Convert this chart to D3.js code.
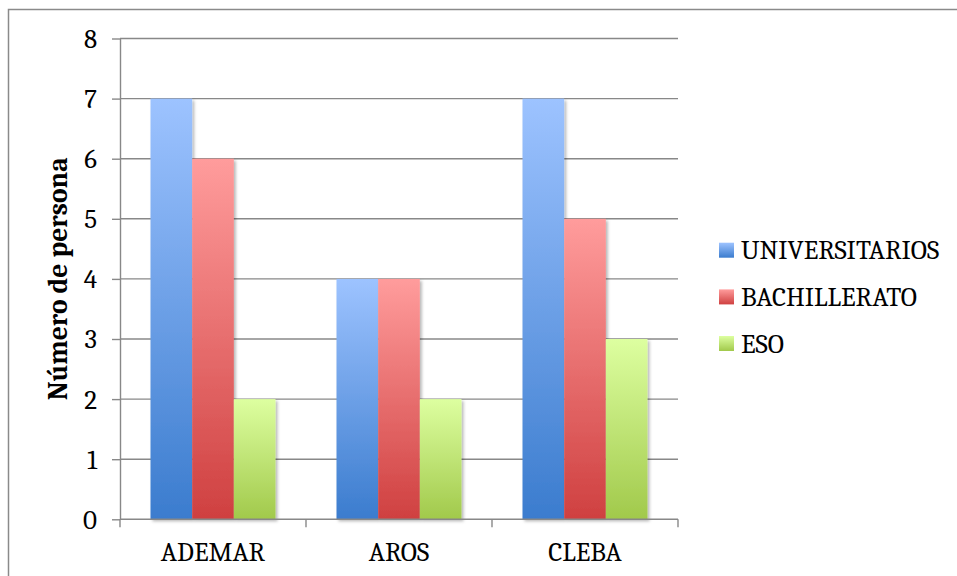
<!DOCTYPE html>
<html>
<head>
<meta charset="utf-8">
<script src="https://cdn.jsdelivr.net/npm/d3@7"></script>
<style>
  html, body { margin: 0; padding: 0; background: #fff; }
  svg { display: block; }
</style>
</head>
<body>
<svg id="chart" width="957" height="576"></svg>
<script>
// Centres and education levels
const categories = ["ADEMAR", "AROS", "CLEBA"];
const seriesNames = ["UNIVERSITARIOS", "BACHILLERATO", "ESO"];
const universitarios = [7, 4, 7];
const bachillerato = [6, 4, 5];
const eso = [2, 2, 3];
const yTicks = [0, 1, 2, 3, 4, 5, 6, 7, 8];
const yTitle = "Número de persona";

const FONT = "'Caladea'";
const FS = 27;
const seriesValues = [universitarios, bachillerato, eso];
const gradients = [
  { id: "gUni", top: "#9dc3ff", bottom: "#3b7cce" },
  { id: "gBach", top: "#ff9c9c", bottom: "#cf4040" },
  { id: "gEso", top: "#ddffa0", bottom: "#a1c94b" }
];

const svg = d3.select("#chart");
const W = 957, H = 576;
const plot = { left: 120, right: 678, top: 38.5, bottom: 519.3 };

// Outer frame (runs off the right and bottom edges)
svg.append("rect")
  .attr("x", 8.5).attr("y", 9.5)
  .attr("width", W + 20).attr("height", H + 20)
  .attr("fill", "none").attr("stroke", "#8a8a8a").attr("stroke-width", 1.5);

const defs = svg.append("defs");
gradients.forEach(g => {
  const lg = defs.append("linearGradient").attr("id", g.id)
    .attr("x1", 0).attr("y1", 0).attr("x2", 0).attr("y2", 1);
  lg.append("stop").attr("offset", "0%").attr("stop-color", g.top);
  lg.append("stop").attr("offset", "100%").attr("stop-color", g.bottom);
});
const shadow = defs.append("filter").attr("id", "barShadow")
  .attr("x", "-20%").attr("y", "-5%").attr("width", "150%").attr("height", "115%");
shadow.append("feDropShadow")
  .attr("dx", 2).attr("dy", 2).attr("stdDeviation", 1.8)
  .attr("flood-color", "#000").attr("flood-opacity", 0.28);

const y = d3.scaleLinear().domain([0, 8]).range([plot.bottom, plot.top]);
const x0 = d3.scaleBand().domain(categories)
  .range([plot.left, plot.right]).paddingInner(0.328).paddingOuter(0.164);
const x1 = d3.scaleBand().domain(seriesNames).range([0, x0.bandwidth()]).padding(0);

// Horizontal gridlines
svg.append("g").selectAll("line").data(yTicks.filter(t => t > 0)).join("line")
  .attr("x1", plot.left).attr("x2", plot.right)
  .attr("y1", d => y(d)).attr("y2", d => y(d))
  .attr("stroke", "#888").attr("stroke-width", 1.4);

// Y axis
const yAxis = svg.append("g").attr("transform", `translate(${plot.left},0)`)
  .call(d3.axisLeft(y).tickValues(yTicks).tickSize(8).tickPadding(15).tickSizeOuter(0))
  .attr("font-family", FONT).attr("font-size", FS);
yAxis.select(".domain").attr("stroke", "#888").attr("stroke-width", 1.4);
yAxis.selectAll(".tick line").attr("stroke", "#888").attr("stroke-width", 1.4);
yAxis.selectAll(".tick text")
  .attr("font-family", FONT).attr("font-size", FS).attr("fill", "#000")
  .attr("dy", "0.33em");

// Bars
const groups = svg.append("g").selectAll("g").data(categories).join("g")
  .attr("transform", d => `translate(${x0(d)},0)`);
groups.selectAll("rect")
  .data((c, ci) => seriesNames.map((s, si) => ({ s, si, v: seriesValues[si][ci] })))
  .join("rect")
  .attr("x", d => x1(d.s))
  .attr("width", x1.bandwidth())
  .attr("y", d => y(d.v))
  .attr("height", d => y(0) - y(d.v))
  .attr("fill", d => `url(#${gradients[d.si].id})`)
  .attr("filter", "url(#barShadow)");

// X axis line and category boundary ticks
const step = x0.step();
const boundaries = [plot.left].concat(categories.map(c => x0(c) + x0.bandwidth() + step * x0.paddingInner() / 2));
const xAxis = svg.append("g");
xAxis.append("line")
  .attr("x1", plot.left).attr("x2", plot.right)
  .attr("y1", y(0)).attr("y2", y(0))
  .attr("stroke", "#888").attr("stroke-width", 1.4);
xAxis.selectAll("line.tk").data(boundaries).join("line").attr("class", "tk")
  .attr("x1", d => d).attr("x2", d => d)
  .attr("y1", y(0)).attr("y2", y(0) + 8)
  .attr("stroke", "#888").attr("stroke-width", 1.4);
xAxis.selectAll("text").data(categories).join("text")
  .attr("x", d => x0(d) + x0.bandwidth() / 2)
  .attr("y", 561)
  .attr("text-anchor", "middle")
  .attr("font-family", FONT)
  .attr("font-size", FS)
  .text(d => d);

// Y axis title
svg.append("text")
  .attr("transform", `translate(66.5,${(plot.top + plot.bottom) / 2}) rotate(-90)`)
  .attr("text-anchor", "middle")
  .attr("font-family", FONT)
  .attr("font-size", 27.5)
  .attr("font-weight", "bold")
  .text(yTitle);

// Legend
const legend = svg.append("g").attr("transform", "translate(719,0)");
const legendY = [242.7, 289.4, 336];
seriesNames.forEach((name, i) => {
  legend.append("rect")
    .attr("x", 0).attr("y", legendY[i])
    .attr("width", 15).attr("height", 15)
    .attr("fill", `url(#${gradients[i].id})`);
  legend.append("text")
    .attr("x", 22).attr("y", legendY[i] + 16.5)
    .attr("font-family", FONT)
    .attr("font-size", FS)
    .text(name);
});
</script>
</body>
</html>
